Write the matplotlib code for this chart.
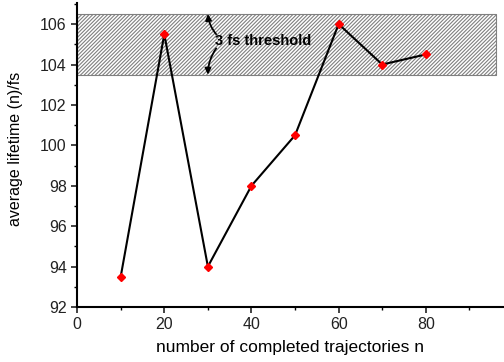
import matplotlib.pyplot as plt
from matplotlib.ticker import MultipleLocator

plt.rcParams['font.family'] = ['Liberation Sans', 'DejaVu Sans']
plt.rcParams['hatch.color'] = '#808080'
plt.rcParams['hatch.linewidth'] = 0.8

# Data
n_traj = [10, 20, 30, 40, 50, 60, 70, 80]
lifetime = [93.5, 105.5, 94.0, 98.0, 100.5, 106.0, 104.0, 104.5]
band_low, band_high = 103.5, 106.5

fig = plt.figure(figsize=(5.04, 3.62), dpi=100)
ax = fig.add_axes([0.153, 0.152, 0.845, 0.840])

# hatched threshold band
ax.fill_between([0, 96], band_low, band_high, facecolor='white',
                edgecolor='#808080', hatch='/' * 9, linewidth=0.8, zorder=1)

ax.plot(n_traj, lifetime, color='black', lw=1.5, zorder=3)
ax.plot(n_traj, lifetime, linestyle='none', marker='D', ms=4.5,
        color='red', mec='red', zorder=4)

# label with arrows pointing to the band edges
ax.text(31.7, 105.15, '3 fs threshold', fontsize=10.5, fontweight='bold',
        va='center', ha='left', zorder=5)
for y_edge, y_start, rad in [(band_high, 105.5, -0.15), (band_low, 104.8, 0.15)]:
    ax.annotate('', xy=(30, y_edge), xytext=(31.9, y_start),
                arrowprops=dict(arrowstyle='-|>', color='black', lw=1.3,
                                mutation_scale=9, shrinkA=0, shrinkB=0,
                                connectionstyle=f'arc3,rad={rad}'), zorder=5)

ax.set_xlim(0, 97.7)
ax.set_ylim(92, 107.05)
ax.xaxis.set_major_locator(MultipleLocator(20))
ax.xaxis.set_minor_locator(MultipleLocator(10))
ax.yaxis.set_major_locator(MultipleLocator(2))
ax.yaxis.set_minor_locator(MultipleLocator(1))
ax.tick_params(which='major', direction='out', length=4, width=1.2,
               labelsize=11.5, colors='#222222')
ax.tick_params(which='minor', direction='out', length=2.5, width=1.0)

for side in ['top', 'right']:
    ax.spines[side].set_visible(False)
for side in ['left', 'bottom']:
    ax.spines[side].set_linewidth(1.5)

ax.set_xlabel('number of completed trajectories n', fontsize=12.5)
ax.set_ylabel('average lifetime (n)/fs', fontsize=11.5)
ax.yaxis.set_label_coords(-0.128, 0.52)
ax.xaxis.set_label_coords(0.5, -0.11)

fig.savefig('out.png', dpi=100)
